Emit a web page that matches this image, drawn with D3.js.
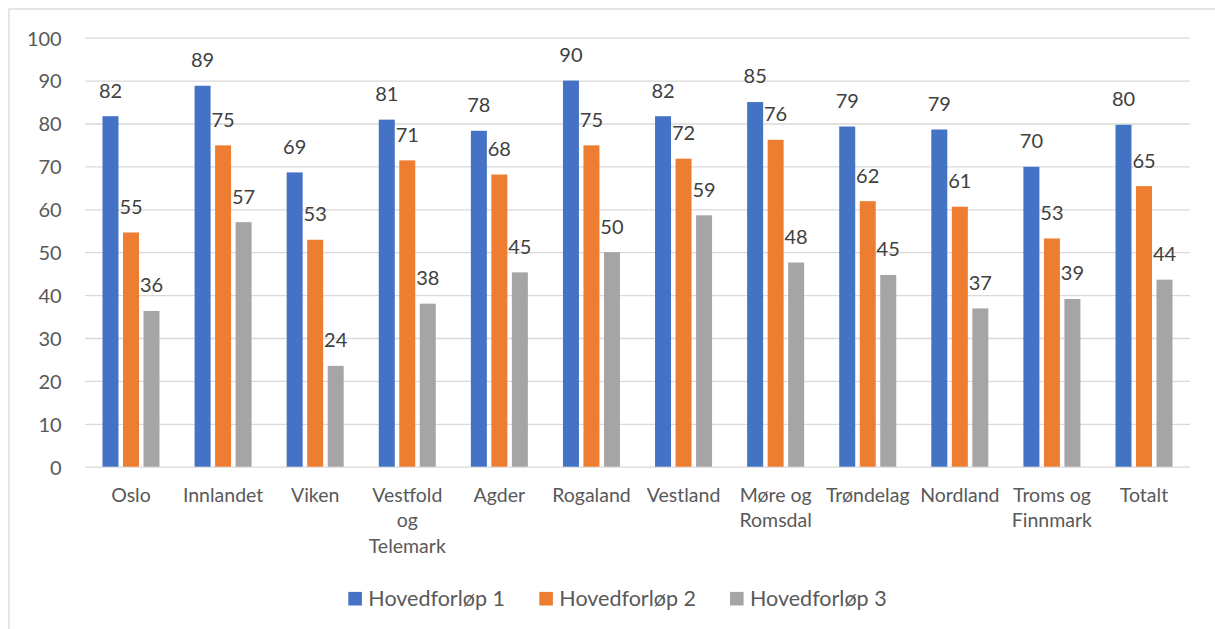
<!DOCTYPE html>
<html>
<head>
<meta charset="utf-8">
<script src="https://cdn.jsdelivr.net/npm/d3@7"></script>
<style>
  html, body { margin: 0; padding: 0; background: #ffffff; }
  svg { display: block; }
  text { font-family: Lato, "Open Sans", sans-serif; }
</style>
</head>
<body>
<svg id="chart" width="1215" height="629"></svg>
<script>
// Regions and the three series (percent)
const categories = ["Oslo", "Innlandet", "Viken", "Vestfold og Telemark", "Agder", "Rogaland",
  "Vestland", "Møre og Romsdal", "Trøndelag", "Nordland", "Troms og Finnmark", "Totalt"];
const seriesNames = ["Hovedforløp 1", "Hovedforløp 2", "Hovedforløp 3"];
const hovedforlop1 = [81.7, 88.8, 68.6, 80.9, 78.3, 90.0, 81.7, 85.0, 79.3, 78.6, 69.9, 79.7];
const hovedforlop2 = [54.6, 74.9, 52.9, 71.4, 68.1, 74.9, 71.8, 76.2, 61.9, 60.6, 53.2, 65.4];
const hovedforlop3 = [36.3, 57.0, 23.5, 38.0, 45.3, 50.0, 58.6, 47.6, 44.7, 36.9, 39.1, 43.6];
const yTicks = [0, 10, 20, 30, 40, 50, 60, 70, 80, 90, 100];
const colors = ["#4472C4", "#ED7D31", "#A5A5A5"];

const seriesValues = [hovedforlop1, hovedforlop2, hovedforlop3];

const svg = d3.select("#chart");
const plot = { left: 85, right: 1190, top: 37.7, bottom: 466.7 };

// chart frame (right and bottom edges run off the canvas)
svg.append("rect")
  .attr("x", 9).attr("y", 9)
  .attr("width", 1240).attr("height", 640)
  .attr("fill", "none").attr("stroke", "#d9d9d9").attr("stroke-width", 1.3);

const x0 = d3.scaleBand()
  .domain(categories)
  .range([plot.left, plot.right])
  .paddingInner(0.381)
  .paddingOuter(0.19);

const x1 = d3.scaleBand()
  .domain(seriesNames)
  .range([0, x0.bandwidth()])
  .paddingInner(0.22)
  .paddingOuter(0);

const y = d3.scaleLinear().domain([0, 100]).range([plot.bottom, plot.top]);

// value axis with horizontal gridlines
const yAxis = svg.append("g")
  .attr("transform", `translate(${plot.left},0)`)
  .call(d3.axisLeft(y).tickValues(yTicks).tickSize(-(plot.right - plot.left)).tickPadding(23.3));
yAxis.select(".domain").remove();
yAxis.selectAll(".tick line").attr("stroke", "#d9d9d9").attr("stroke-width", 1.3);
yAxis.selectAll(".tick text")
  .attr("fill", "#595959")
  .attr("font-size", "20px")
  .attr("dy", "7.3px")
  .style("font-family", "Lato, 'Open Sans', sans-serif");

// bars
const rows = categories.map((c, i) => ({
  category: c,
  values: seriesNames.map((s, k) => ({ series: s, k, value: seriesValues[k][i] }))
}));

const groups = svg.append("g").selectAll("g")
  .data(rows)
  .join("g")
  .attr("transform", d => `translate(${x0(d.category)},0)`);

groups.selectAll("rect")
  .data(d => d.values)
  .join("rect")
  .attr("x", d => x1(d.series))
  .attr("y", d => y(d.value))
  .attr("width", x1.bandwidth())
  .attr("height", d => y(0) - y(d.value))
  .attr("fill", d => colors[d.k]);

// data labels above each bar
const fmt = d3.format(".0f");
groups.selectAll("text.value")
  .data(d => d.values)
  .join("text")
  .attr("class", "value")
  .attr("x", d => x1(d.series) + x1.bandwidth() / 2)
  .attr("y", d => y(d.value) - 18.6)
  .attr("text-anchor", "middle")
  .attr("fill", "#404040")
  .attr("font-size", "20px")
  .text(d => fmt(d.value));

// category labels, wrapped to the band step
const maxW = x0.step();
const catG = svg.append("g");
categories.forEach(c => {
  const cx = x0(c) + x0.bandwidth() / 2;
  const t = catG.append("text")
    .attr("text-anchor", "middle")
    .attr("fill", "#595959")
    .attr("font-size", "19.5px");
  const words = c.split(" ");
  const lines = [];
  let line = [];
  const probe = catG.append("text").attr("font-size", "19.5px");
  words.forEach(w => {
    const test = line.concat([w]).join(" ");
    probe.text(test);
    if (line.length && probe.node().getComputedTextLength() > maxW - 6) {
      lines.push(line.join(" "));
      line = [w];
    } else {
      line.push(w);
    }
  });
  lines.push(line.join(" "));
  probe.remove();
  lines.forEach((l, j) => {
    t.append("tspan").attr("x", cx).attr("y", 501.5 + j * 25.5).text(l);
  });
});

// legend
const legend = svg.append("g");
const legendX = [348.3, 539.3, 730];
seriesNames.forEach((s, k) => {
  legend.append("rect")
    .attr("x", legendX[k]).attr("y", 591.9)
    .attr("width", 13.6).attr("height", 13.6)
    .attr("fill", colors[k]);
  legend.append("text")
    .attr("x", legendX[k] + 20).attr("y", 605.6)
    .attr("fill", "#595959")
    .attr("font-size", "21.5px")
    .text(s);
});
</script>
</body>
</html>
